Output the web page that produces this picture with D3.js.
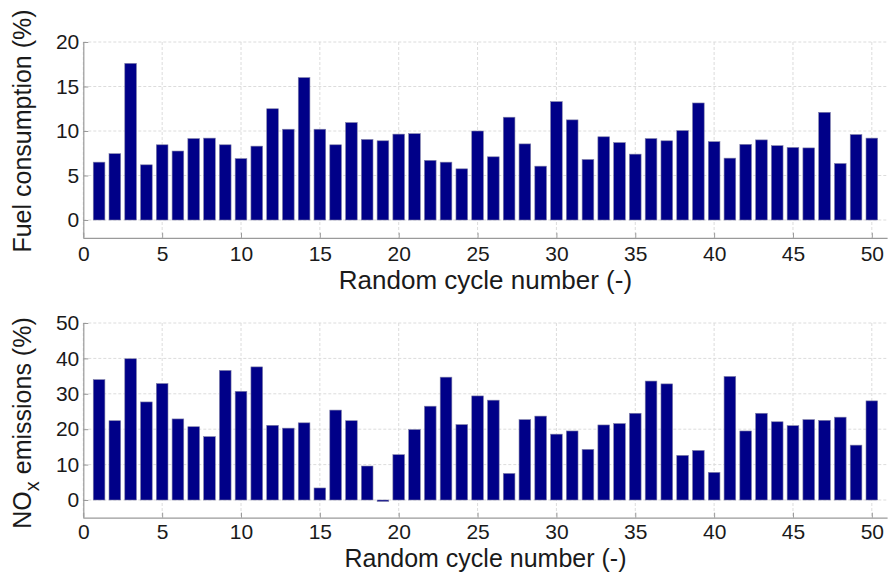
<!DOCTYPE html>
<html>
<head>
<meta charset="utf-8">
<script src="https://cdn.jsdelivr.net/npm/d3@7"></script>
<style>
html,body{margin:0;padding:0;background:#fff;}
svg{display:block;font-family:"Liberation Sans",Arial,Helvetica,sans-serif;}
</style>
</head>
<body>
<svg id="chart" width="888" height="573"></svg>
<script>
const cycles = d3.range(1, 51);
const fuelConsumption = [6.5, 7.45, 17.6, 6.2, 8.45, 7.75, 9.15, 9.2, 8.45, 6.9,
  8.3, 12.5, 10.2, 16.0, 10.2, 8.45, 10.95, 9.05, 8.9, 9.65,
  9.7, 6.7, 6.5, 5.75, 10.0, 7.1, 11.55, 8.55, 6.05, 13.3,
  11.25, 6.8, 9.35, 8.7, 7.4, 9.15, 8.9, 10.05, 13.15, 8.8,
  6.95, 8.5, 9.0, 8.35, 8.15, 8.1, 12.1, 6.35, 9.6, 9.2];
const noxEmissions = [34.0, 22.4, 39.9, 27.7, 32.9, 22.9, 20.7, 17.9, 36.6, 30.7,
  37.6, 21.1, 20.3, 21.8, 3.4, 25.4, 22.4, 9.6, -0.4, 12.8,
  19.9, 26.5, 34.7, 21.3, 29.4, 28.2, 7.5, 22.7, 23.7, 18.6,
  19.5, 14.3, 21.2, 21.6, 24.5, 33.6, 32.8, 12.6, 14.0, 7.8,
  34.9, 19.5, 24.5, 22.1, 21.0, 22.7, 22.5, 23.4, 15.5, 28.0];
const xTicks = [0, 5, 10, 15, 20, 25, 30, 35, 40, 45, 50];
const fuelTicks = [0, 5, 10, 15, 20];
const noxTicks = [0, 10, 20, 30, 40, 50];

const svg = d3.select("#chart");
const left = 83.3, right = 887.6;
const x = d3.scaleLinear().domain([0, 51]).range([left, right]);
const barW = (x(1) - x(0)) * 0.74;
const barColor = "#000088";
const axisColor = "#9a9a9a";
const gridColor = "#dcdcdc";
const textColor = "#1a1a1a";

function panel(opts) {
  const y = d3.scaleLinear().domain(opts.yDomain).range([opts.bottom, opts.top]);
  const g = svg.append("g");
  // grid
  g.append("g").selectAll("line.gx").data(xTicks).join("line")
    .attr("x1", d => x(d)).attr("x2", d => x(d))
    .attr("y1", opts.top).attr("y2", opts.bottom)
    .attr("stroke", gridColor).attr("stroke-dasharray", "3,2").attr("stroke-width", 1);
  g.append("g").selectAll("line.gy").data(opts.yTicks).join("line")
    .attr("x1", left).attr("x2", right)
    .attr("y1", d => y(d)).attr("y2", d => y(d))
    .attr("stroke", gridColor).attr("stroke-dasharray", "3,2").attr("stroke-width", 1);
  // bars
  g.append("g").selectAll("rect").data(opts.values).join("rect")
    .attr("x", (d, i) => x(cycles[i]) - barW / 2)
    .attr("width", barW)
    .attr("y", d => y(Math.max(0, d)))
    .attr("height", d => Math.max(1, Math.abs(y(d) - y(0))))
    .attr("fill", barColor)
    .attr("stroke", "#8080a8").attr("stroke-width", 0.6);
  // axes
  const xAxis = d3.axisBottom(x).tickValues(xTicks).tickSize(-5).tickPadding(opts.tickPad)
    .tickFormat(d3.format("d"));
  const gx = g.append("g").attr("transform", `translate(0,${opts.bottom})`).call(xAxis);
  const yAxis = d3.axisLeft(y).tickValues(opts.yTicks).tickSize(-5).tickPadding(4)
    .tickFormat(d3.format("d"));
  const gy = g.append("g").attr("transform", `translate(${left},0)`).call(yAxis);
  [gx, gy].forEach(a => {
    a.select(".domain").attr("stroke", axisColor).attr("stroke-width", 1.2);
    a.selectAll(".tick line").attr("stroke", axisColor);
    a.selectAll(".tick text").attr("fill", textColor)
      .style("font-size", "21px").style("font-family", '"Liberation Sans",Arial,sans-serif');
  });
  gx.select(".domain").attr("d", `M${left},0.5H${right}`);
  gy.select(".domain").attr("d", `M0.5,${opts.bottom}V${opts.top}`);
  // x title
  g.append("text").attr("x", (left + right) / 2).attr("y", opts.bottom + opts.titleOffset)
    .attr("text-anchor", "middle").attr("fill", textColor)
    .style("font-size", opts.titleSize).text("Random cycle number (-)");
  return y;
}

panel({ values: fuelConsumption, yDomain: [-2, 20], yTicks: fuelTicks, top: 42, bottom: 237.8,
  tickPad: 8, titleOffset: 51, titleSize: "26px" });
panel({ values: noxEmissions, yDomain: [-5, 50], yTicks: noxTicks, top: 323, bottom: 517.7,
  tickPad: 6, titleOffset: 49, titleSize: "25px" });

// y titles
svg.append("text").attr("transform", `translate(31,131) rotate(-90)`)
  .attr("text-anchor", "middle").attr("fill", textColor)
  .style("font-size", "25px").text("Fuel consumption (%)");
const t2 = svg.append("text").attr("transform", `translate(31,423) rotate(-90)`)
  .attr("text-anchor", "middle").attr("fill", textColor)
  .style("font-size", "25px");
t2.append("tspan").text("NO");
t2.append("tspan").attr("dy", 8).style("font-size", "20px").text("x");
t2.append("tspan").attr("dy", -8).text(" emissions (%)");
</script>
</body>
</html>
